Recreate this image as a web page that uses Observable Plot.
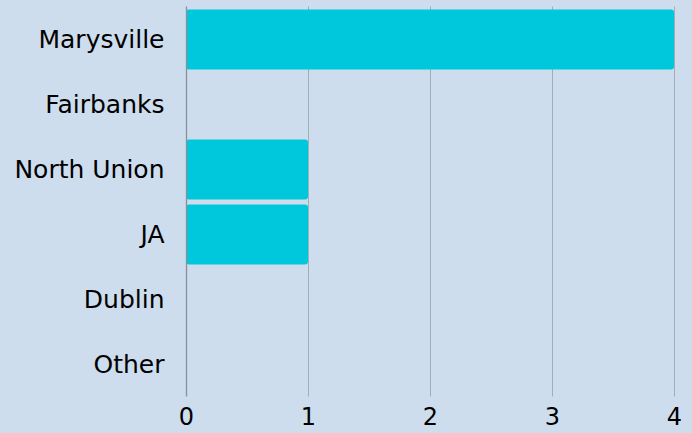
<!DOCTYPE html>
<html>
<head>
<meta charset="utf-8">
<script src="https://cdn.jsdelivr.net/npm/d3@7"></script>
<script src="https://cdn.jsdelivr.net/npm/@observablehq/plot@0.6"></script>
<style>
  html, body { margin: 0; padding: 0; background: #cddded; }
  #chart svg { display: block; }
</style>
</head>
<body>
<div id="chart"></div>
<script>
const categories = ["Marysville", "Fairbanks", "North Union", "JA", "Dublin", "Other"];
const values = [4, 0, 1, 1, 0, 0];
const xTicks = [0, 1, 2, 3, 4];

const data = categories.map((c, i) => ({category: c, value: values[i]}));

const chart = Plot.plot({
  width: 692,
  height: 433,
  marginLeft: 186,
  marginRight: 18,
  marginTop: 6.5,
  marginBottom: 36.5,
  style: {background: "#cddded", fontFamily: "'DejaVu Sans', sans-serif", color: "#000"},
  x: {domain: [0, 4], ticks: xTicks, tickFormat: d3.format("d"), label: null},
  y: {domain: categories, label: null, paddingInner: 0, paddingOuter: 0},
  marks: [
    Plot.ruleX(xTicks.filter(d => d > 0), {stroke: "#a3adb6", strokeWidth: 1}),
    Plot.barX(data.filter(d => d.value > 0), {
      x: "value", y: "category", fill: "#00c8dc",
      insetTop: 2.5, insetBottom: 2.5, rx: 3
    }),
    Plot.ruleX([0], {stroke: "#8a9096", strokeWidth: 1.3}),
    Plot.axisX({ticks: xTicks, tickSize: 0, tickPadding: 11, fontSize: 24, label: null, tickFormat: d3.format("d")}),
    Plot.axisY({tickSize: 0, tickPadding: 22, fontSize: 25, label: null})
  ]
});
document.getElementById("chart").appendChild(chart);
</script>
</body>
</html>
